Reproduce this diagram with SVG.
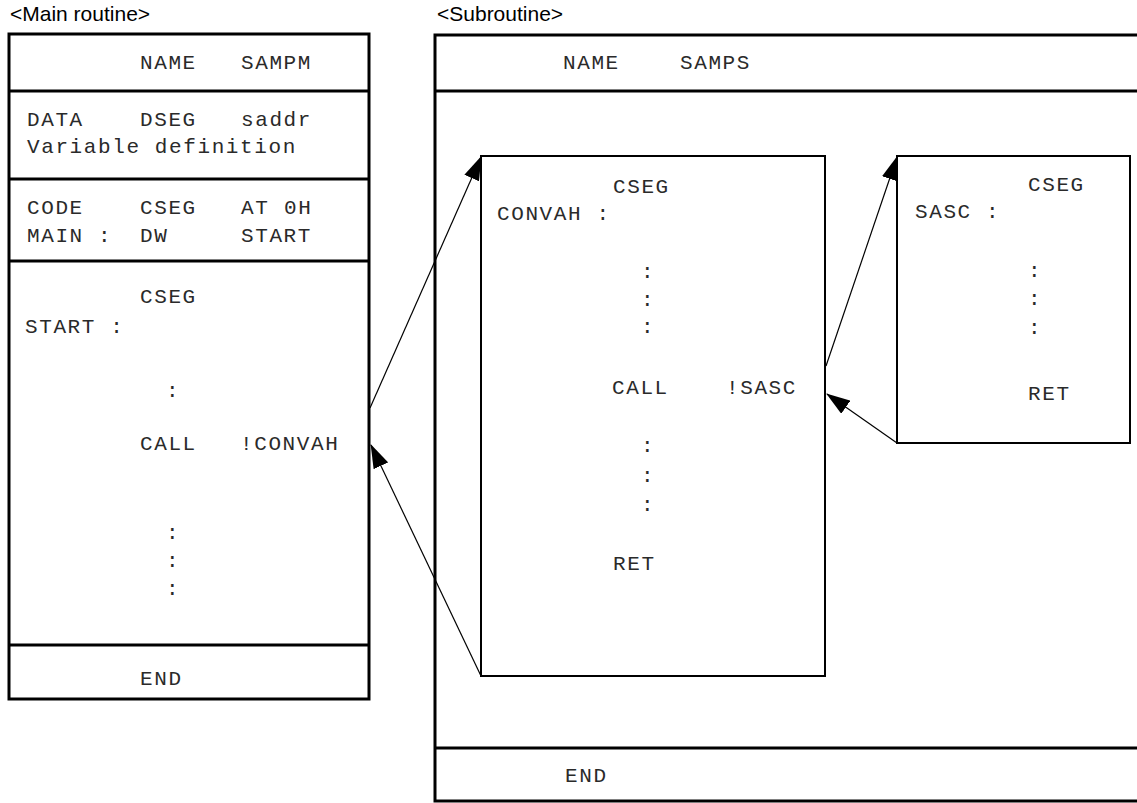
<svg xmlns="http://www.w3.org/2000/svg" width="1137" height="803" viewBox="0 0 1137 803">
<style>
.title{font-family:"Liberation Sans",Arial,sans-serif;font-size:21px;fill:#000}
.code{font-family:"Liberation Mono","Courier New",monospace;font-size:21px;letter-spacing:1.6px;fill:#2a2a2a}
.box{fill:none;stroke:#000;stroke-width:3}
.div{stroke:#000;stroke-width:3}
.inner{fill:#fff;stroke:#000;stroke-width:2}
.conn{stroke:#000;stroke-width:1.2;fill:none;marker-end:url(#arr)}
</style>
<defs>
<marker id="arr" viewBox="0 0 24 16" refX="23" refY="8" markerWidth="24" markerHeight="16" markerUnits="userSpaceOnUse" orient="auto">
<path d="M0,0 L24,8 L0,16 z" fill="#000"/>
</marker>
</defs>
<rect width="1137" height="803" fill="#fff"/>
<text class="title" x="10" y="21">&lt;Main routine&gt;</text>
<text class="title" x="437" y="21">&lt;Subroutine&gt;</text>

<g id="main">
<rect class="box" x="9" y="34" width="360" height="665"/>
<line class="div" x1="9" y1="91" x2="369" y2="91"/>
<line class="div" x1="9" y1="179" x2="369" y2="179"/>
<line class="div" x1="9" y1="261" x2="369" y2="261"/>
<line class="div" x1="9" y1="645" x2="369" y2="645"/>
<text class="code" x="140" y="69">NAME</text><text class="code" x="241" y="69">SAMPM</text>
<text class="code" x="27" y="126">DATA</text><text class="code" x="140" y="126">DSEG</text><text class="code" x="241" y="126">saddr</text>
<text class="code" x="27" y="153">Variable definition</text>
<text class="code" x="27" y="214">CODE</text><text class="code" x="140" y="214">CSEG</text><text class="code" x="241" y="214">AT</text><text class="code" x="284" y="214">0H</text>
<text class="code" x="27" y="242">MAIN :</text><text class="code" x="140" y="242">DW</text><text class="code" x="241" y="242">START</text>
<text class="code" x="140" y="303">CSEG</text>
<text class="code" x="25" y="333">START :</text>
<text class="code" x="166" y="397">:</text>
<text class="code" x="140" y="450">CALL</text><text class="code" x="240" y="450">!CONVAH</text>
<text class="code" x="166" y="539">:</text>
<text class="code" x="166" y="567">:</text>
<text class="code" x="166" y="595">:</text>
<text class="code" x="140" y="685">END</text>
</g>

<g id="sub">
<rect class="box" x="435" y="35" width="720" height="766"/>
<line class="div" x1="435" y1="91" x2="1137" y2="91"/>
<line class="div" x1="435" y1="748" x2="1137" y2="748"/>
<text class="code" x="563" y="69">NAME</text><text class="code" x="680" y="69">SAMPS</text>
<text class="code" x="565" y="782">END</text>
</g>

<g id="convah">
<rect class="inner" x="481" y="156" width="344" height="520"/>
<text class="code" x="613" y="193">CSEG</text>
<text class="code" x="497" y="220">CONVAH :</text>
<text class="code" x="641" y="278">:</text>
<text class="code" x="641" y="306">:</text>
<text class="code" x="641" y="333">:</text>
<text class="code" x="612" y="394">CALL</text><text class="code" x="726" y="394">!SASC</text>
<text class="code" x="641" y="452">:</text>
<text class="code" x="641" y="482">:</text>
<text class="code" x="641" y="511">:</text>
<text class="code" x="613" y="570">RET</text>
</g>

<g id="sasc">
<rect class="inner" x="897" y="156" width="233" height="287"/>
<text class="code" x="1028" y="191">CSEG</text>
<text class="code" x="915" y="218">SASC :</text>
<text class="code" x="1028" y="277">:</text>
<text class="code" x="1028" y="305">:</text>
<text class="code" x="1028" y="334">:</text>
<text class="code" x="1028" y="400">RET</text>
</g>

<g id="connectors">
<line class="conn" x1="370" y1="408" x2="481" y2="157"/>
<line class="conn" x1="481" y1="676" x2="371" y2="445"/>
<line class="conn" x1="826" y1="366" x2="897" y2="157"/>
<line class="conn" x1="897" y1="443" x2="827" y2="394"/>
</g>
</svg>
